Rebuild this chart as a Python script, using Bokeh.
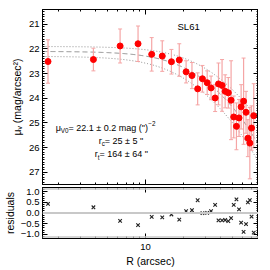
import numpy as np
from bokeh.plotting import figure
from bokeh.layouts import column
from bokeh.models import (Range1d, LogAxis, LinearAxis, FixedTicker,
                          SingleIntervalTicker, Span)
from bokeh.core.properties import value
from bokeh.embed import file_html
from bokeh.resources import INLINE

# ---------------- data ----------------
radius = [1.66, 3.83, 6.26, 8.71, 11.2, 13.6, 16.1, 18.6, 21.1, 23.5,
          26.1, 28.5, 31.1, 33.4, 36.0, 38.3, 40.9, 43.3, 45.9, 48.3,
          50.7, 53.3, 55.9, 58.1, 60.8, 63.6, 65.8, 68.2, 70.4, 73.3]
mu = [22.51, 22.43, 21.88, 21.79, 22.22, 22.29, 22.52, 22.45, 22.93, 23.08,
      23.62, 23.21, 23.37, 23.58, 23.99, 23.42, 23.48, 23.72, 23.78, 24.08,
      24.76, 25.14, 24.80, 24.35, 24.12, 24.57, 25.62, 25.82, 25.21, 24.71]
mu_err = [0.88, 0.46, 0.69, 0.72, 0.68, 0.62, 0.50, 0.66, 0.45, 0.53,
          0.65, 0.54, 0.48, 0.48, 0.55, 0.85, 1.05, 0.67, 0.62, 1.60,
          0.85, 0.95, 0.75, 0.90, 1.75, 0.85, 0.75, 1.45, 0.90, 1.30]
residuals = [0.43, 0.27, -0.37, -0.57, -0.18, -0.21, -0.07, -0.31, 0.09, 0.13,
             0.60, -0.01, 0.01, 0.09, 0.38, -0.35, -0.35, -0.33, -0.38, -0.24,
             0.38, 0.64, 0.17, -0.45, -0.89, -0.52, 0.50, 0.61, -0.17, -0.92]

# King-profile fit parameters (mu0, rc, rt): best fit, upper, lower
fit_best = (22.1, 25.0, 164.0)
fit_upper = (21.9, 30.0, 228.0)
fit_lower = (22.3, 20.0, 164.0)

x_major = [10]
x_minor = [2, 3, 4, 5, 6, 7, 8, 9, 20, 30, 40, 50, 60, 70, 80]

FONT = "Liberation Sans"
ERR_COLOR = "#f5a5a5"
LINE_COLOR = "#8c8c8c"

ARIAL = {' ': 278, '=': 584, '\u00b1': 584, '.': 278, 'm': 833, 'a': 556,
         'g': 556, '(': 333, ')': 333, '"': 355, '\u03bc': 576, 'V': 667,
         'r': 333, 'c': 500, 't': 278, '\u2212': 584}


def text_width(s, size):
    return sum(ARIAL.get(ch, 556) for ch in s) * size / 1000.0


def king(r, mu0, rc, rt):
    r = np.asarray(r, dtype=float)
    ct = 1.0 / np.sqrt(1.0 + (rt / rc) ** 2)
    f = 1.0 / np.sqrt(1.0 + (r / rc) ** 2) - ct
    return mu0 - 2.5 * np.log10(f ** 2 / (1.0 - ct) ** 2)


def style_axis(ax, labels=True):
    ax.major_tick_in = 5
    ax.major_tick_out = 0
    ax.minor_tick_in = 2
    ax.minor_tick_out = 0
    ax.axis_line_color = "black"
    ax.major_tick_line_color = "black"
    ax.minor_tick_line_color = "black"
    ax.major_label_text_font = FONT
    ax.major_label_text_font_size = "9.5px"
    ax.major_label_text_color = "black"
    ax.axis_label_text_font = FONT
    ax.axis_label_text_font_size = "10.5px"
    ax.axis_label_text_font_style = "normal"
    ax.axis_label_text_color = "black"
    if labels:
        ax.major_label_standoff = 3
    else:
        ax.major_label_text_font_size = "1px"
        ax.major_label_text_alpha = 0
        ax.major_label_standoff = 0


def rich_text(p, x, y, pieces, size):
    off = 0.0
    for txt, kind in pieces:
        fs = size if kind == "n" else size * 0.7
        dy = 0 if kind == "n" else (3 if kind == "sub" else -4)
        if kind == "sup":
            off -= 2.5
        p.text(x=[x], y=[y], text=[txt], x_offset=off, y_offset=dy,
               text_font=value(FONT), text_font_size=f"{fs:.1f}px",
               text_baseline="middle", text_align="left", text_color="black")
        off += text_width(txt, fs)


def model_curve(params):
    rr = np.logspace(np.log10(1.5), np.log10(80), 300)
    mm = king(rr, *params)
    ok = np.isfinite(mm) & (mm < 27.6)
    return rr[ok], mm[ok]


x_range = Range1d(1.5, 80)

# ---------------- top panel ----------------
p1 = figure(width=258, height=185, x_axis_type="log", x_range=x_range,
            y_range=Range1d(27.5, 20.4), output_backend="svg",
            toolbar_location=None, min_border_left=33, min_border_right=0,
            min_border_top=9, min_border_bottom=1)
p1.xgrid.visible = False
p1.ygrid.visible = False
p1.outline_line_color = "black"

p1.xaxis.ticker = FixedTicker(ticks=x_major, minor_ticks=x_minor)
p1.yaxis.ticker = SingleIntervalTicker(interval=1, num_minor_ticks=10)
style_axis(p1.xaxis[0], labels=False)
style_axis(p1.yaxis[0])
p1.yaxis.axis_label = "\u03bc\u1d65 (mag/arcsec\u00b2)"
p1.yaxis.axis_label_standoff = 3

ax_top = LogAxis(ticker=FixedTicker(ticks=x_major, minor_ticks=x_minor))
style_axis(ax_top, labels=False)
p1.add_layout(ax_top, "above")
ax_right = LinearAxis(ticker=SingleIntervalTicker(interval=1, num_minor_ticks=10))
style_axis(ax_right, labels=False)
p1.add_layout(ax_right, "right")

for params, dash in ((fit_upper, "1 2"), (fit_lower, "1 2"), (fit_best, "5 3")):
    cx, cy = model_curve(params)
    p1.line(cx, cy, line_color=LINE_COLOR, line_dash=dash, line_width=1)

upper = [m - e for m, e in zip(mu, mu_err)]
lower = [m + e for m, e in zip(mu, mu_err)]
p1.segment(x0=radius, y0=upper, x1=radius, y1=lower, line_color=ERR_COLOR, line_width=1.2)
p1.scatter(radius, upper, marker="dash", size=4, line_color=ERR_COLOR, line_width=1)
p1.scatter(radius, lower, marker="dash", size=4, line_color=ERR_COLOR, line_width=1)
p1.scatter(radius, mu, marker="circle", size=6, fill_color="red", line_color="red")

p1.text(x=[22.1], y=[21.08], text=["SL61"], text_font=value(FONT),
        text_font_size="9.5px", text_align="center", text_baseline="middle",
        text_color="black")

rich_text(p1, 1.91, 25.2, [("\u03bc", "n"), ("V0", "sub"),
                           (' = 22.1 \u00b1 0.2 mag (")', "n"), ("\u22122", "sup")], 9)
rich_text(p1, 4.22, 25.72, [("r", "n"), ("c", "sub"), (' = 25 \u00b1 5 "', "n")], 9)
rich_text(p1, 3.93, 26.27, [("r", "n"), ("t", "sub"), (' = 164 \u00b1 64 "', "n")], 9)

# ---------------- residual panel ----------------
p2 = figure(width=258, height=84, x_axis_type="log", x_range=x_range,
            y_range=Range1d(-1.2, 1.2), output_backend="svg",
            toolbar_location=None, min_border_left=33, min_border_right=0,
            min_border_top=2, min_border_bottom=2)
p2.xgrid.visible = False
p2.ygrid.visible = False
p2.outline_line_color = "black"

p2.xaxis.ticker = FixedTicker(ticks=x_major, minor_ticks=x_minor)
p2.yaxis.ticker = SingleIntervalTicker(interval=0.5, num_minor_ticks=5)
style_axis(p2.xaxis[0])
style_axis(p2.yaxis[0])
p2.xaxis.major_label_standoff = 5
p2.xaxis.major_label_overrides = {10: "10"}
p2.xaxis.axis_label = "R (arcsec)"
p2.xaxis.axis_label_standoff = 2
p2.yaxis.axis_label = "residuals"
p2.yaxis.axis_label_standoff = 2
p2.yaxis.major_label_overrides = {1.0: "1.0", 0.5: "0.5", 0: "0.0",
                                  -0.5: "\u22120.5", -1.0: "\u22121.0"}

ax_top2 = LogAxis(ticker=FixedTicker(ticks=x_major, minor_ticks=x_minor))
style_axis(ax_top2, labels=False)
p2.add_layout(ax_top2, "above")
ax_right2 = LinearAxis(ticker=SingleIntervalTicker(interval=0.5, num_minor_ticks=5))
style_axis(ax_right2, labels=False)
p2.add_layout(ax_right2, "right")

p2.add_layout(Span(location=0, dimension="width", line_color="#c8c8c8", line_width=2))
p2.add_layout(Span(location=1.13, dimension="width", line_color="#c8c8c8", line_width=1.5))
p2.add_layout(Span(location=-1.13, dimension="width", line_color="#c8c8c8", line_width=1.5))

p2.scatter(radius, residuals, marker="x", size=5, line_color="#222222", line_width=1.1)

layout = column(p1, p2)
open("out.html", "w").write(file_html(layout, INLINE))
